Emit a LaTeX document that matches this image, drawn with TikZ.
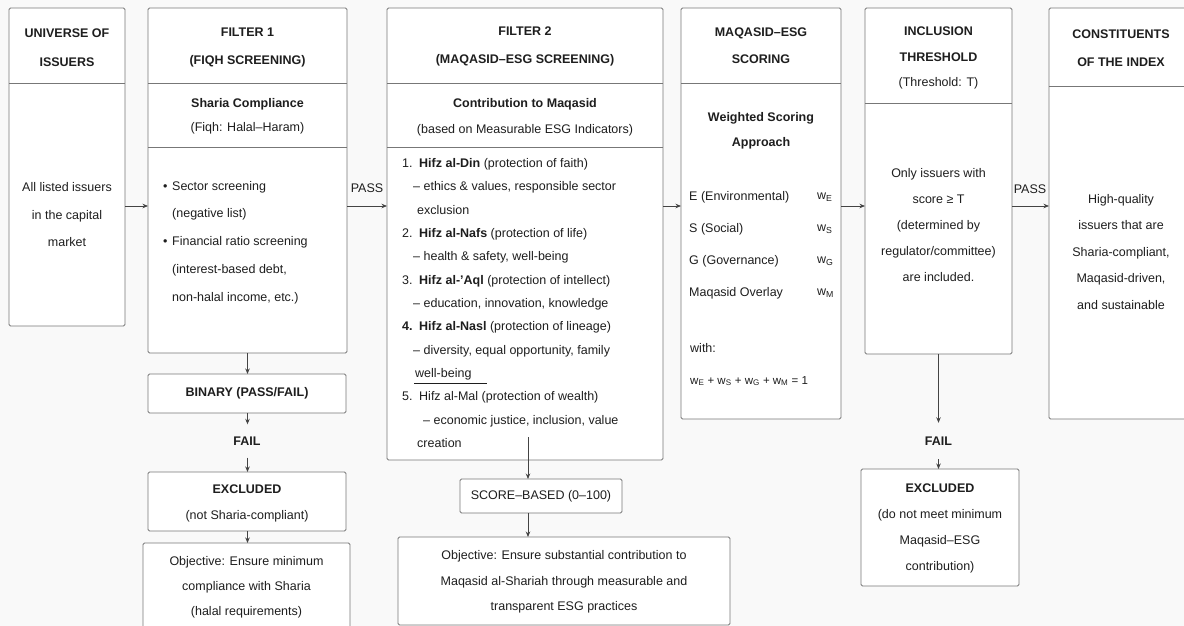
\documentclass[tikz,border=0pt]{standalone}
\usepackage{fontspec}
\setmainfont{Liberation Sans}
\usetikzlibrary{arrows.meta}
\definecolor{bg}{HTML}{F9F9F9}
\definecolor{edge}{HTML}{777777}
\definecolor{ink}{HTML}{1E1E1E}
\definecolor{arrowc}{HTML}{444444}
\newcommand\myfs[2]{\fontsize{#1}{#2}\selectfont}
\begin{document}
\begin{tikzpicture}[x=1pt,y=-1pt,
  box/.style={draw=edge, line width=0.9pt, rounded corners=1.5pt, fill=white, inner sep=0pt, outer sep=0pt, anchor=north west},
  divline/.style={draw=edge, line width=0.9pt},
  hd/.style={font=\bfseries\myfs{12.5}{28.5}, align=center, inner sep=0pt, text=ink},
  bd/.style={font=\myfs{12.5}{26}, align=center, inner sep=0pt, text=ink},
  arr/.style={draw=arrowc, line width=0.8pt, -{Stealth[length=5.5pt,width=4.5pt]}}]
\useasboundingbox (0,0) rectangle (1184,626);
\clip (0,0) rectangle (1184,626);
\fill[bg] (0,0) rectangle (1184,626);

% ---------- boxes ----------
\node[box, minimum width=116pt, minimum height=318pt] (universe) at (9,8) {};
\node[box, minimum width=199pt, minimum height=345pt] (f1) at (148,8) {};
\node[box, minimum width=198pt, minimum height=39pt] (binary) at (148,374) {};
\node[box, minimum width=198pt, minimum height=59pt] (exc1) at (148,472) {};
\node[box, minimum width=207pt, minimum height=86pt] (obj1) at (143,543) {};
\node[box, minimum width=276pt, minimum height=452pt] (f2) at (387,8) {};
\node[box, minimum width=162pt, minimum height=34pt] (score) at (460,479) {};
\node[box, minimum width=332pt, minimum height=88pt] (obj2) at (398,537) {};
\node[box, minimum width=160pt, minimum height=411pt] (mesg) at (681,8) {};
\node[box, minimum width=147pt, minimum height=346pt] (incl) at (865,8) {};
\node[box, minimum width=158pt, minimum height=117pt] (exc2) at (861,469) {};
\node[box, minimum width=150pt, minimum height=411pt] (cons) at (1049,8) {};

% dividers
\draw[divline] (universe.west |- 0,83) -- (universe.east |- 0,83);
\draw[divline] (f1.west |- 0,83) -- (f1.east |- 0,83);
\draw[divline] (f1.west |- 0,147) -- (f1.east |- 0,147);
\draw[divline] (f2.west |- 0,83) -- (f2.east |- 0,83);
\draw[divline] (f2.west |- 0,147) -- (f2.east |- 0,147);
\draw[divline] (mesg.west |- 0,83) -- (mesg.east |- 0,83);
\draw[divline] (incl.west |- 0,103) -- (incl.east |- 0,103);
\draw[divline] (cons.west |- 0,86) -- (cons.east |- 0,86);

% ---------- texts ----------
\node[hd] (uh) at (67,47.5) {UNIVERSE OF\\ISSUERS};
\node[bd, font=\myfs{12.5}{27.5}] (ub) at (67,215) {All listed issuers\\in the capital\\market};

\node[hd] (f1h) at (247.5,47.5) {FILTER 1\\(FIQH SCREENING)};
\node[bd, font=\myfs{12.5}{24}] (f1s) at (247.5,116) {\textbf{Sharia Compliance}\\(Fiqh: Halal–Haram)};
\node[bd, align=left, anchor=west, font=\myfs{12.5}{27.8}] (f1b) at (163,242.5)
  {\makebox[9pt][l]{•}Sector screening\\\hspace*{9pt}(negative list)\\\makebox[9pt][l]{•}Financial ratio screening\\\hspace*{9pt}(interest-based debt,\\\hspace*{9pt}non-halal income, etc.)};

\node[hd, font=\bfseries\myfs{12.5}{28}] (f2h) at (525,46) {FILTER 2\\(MAQASID–ESG SCREENING)};
\node[bd, font=\myfs{12.5}{26}] (f2s) at (525,117) {\textbf{Contribution to Maqasid}\\(based on Measurable ESG Indicators)};
\node[bd, align=left, anchor=west, font=\myfs{12.5}{23.33}] (f2b) at (402,303)
  {\makebox[17pt][l]{1.}\textbf{Hifz al-Din} (protection of faith)\\
   \hspace*{11pt}– ethics \& values, responsible sector\\
   \hspace*{15pt}exclusion\\
   \makebox[17pt][l]{2.}\textbf{Hifz al-Nafs} (protection of life)\\
   \hspace*{11pt}– health \& safety, well-being\\
   \makebox[17pt][l]{3.}\textbf{Hifz al-’Aql} (protection of intellect)\\
   \hspace*{11pt}– education, innovation, knowledge\\
   \makebox[17pt][l]{\textbf{4.}}\textbf{Hifz al-Nasl} (protection of lineage)\\
   \hspace*{11pt}– diversity, equal opportunity, family\\
   \hspace*{13pt}well-being\\
   \makebox[17pt][l]{5.}Hifz al-Mal (protection of wealth)\\
   \hspace*{21pt}– economic justice, inclusion, value\\
   \hspace*{15pt}creation};
\draw[ink, line width=0.7pt] (414,383) -- (487,383);

\node[hd, font=\bfseries\myfs{12.5}{27}] (mh) at (761,45.5) {MAQASID–ESG\\SCORING};
\node[hd, font=\bfseries\myfs{12.5}{25}] (ms) at (761,130.5) {Weighted Scoring\\Approach};
\node[bd, anchor=west] (me) at (689,197) {E (Environmental)};
\node[bd, anchor=west] (ms2) at (689,229) {S (Social)};
\node[bd, anchor=west] (mg) at (689,261) {G (Governance)};
\node[bd, anchor=west] (mm) at (689,293) {Maqasid Overlay};
\node[bd, anchor=west] (wE) at (817,197) {w\textsubscript{E}};
\node[bd, anchor=west] (wS) at (817,229) {w\textsubscript{S}};
\node[bd, anchor=west] (wG) at (817,261) {w\textsubscript{G}};
\node[bd, anchor=west] (wM) at (817,293) {w\textsubscript{M}};
\node[bd, anchor=west] (with) at (690,348) {with:};
\node[bd, anchor=west, font=\myfs{11.5}{20}] (sum) at (690,381)
  {w\textsubscript{E} + w\textsubscript{S} + w\textsubscript{G} + w\textsubscript{M} = 1};

\node[hd, font=\bfseries\myfs{12.5}{26}] (ih) at (938.5,44) {INCLUSION\\THRESHOLD};
\node[bd] (it) at (938.5,83) {(Threshold: T)};
\node[bd] (ib) at (938.5,225.5) {Only issuers with\\score ≥ T\\(determined by\\regulator/committee)\\are included.};

\node[hd, font=\bfseries\myfs{12.5}{28}] (ch) at (1121,48) {CONSTITUENTS\\OF THE INDEX};
\node[bd, font=\myfs{12.5}{26.5}] (cb) at (1121,252) {High-quality\\issuers that are\\Sharia-compliant,\\Maqasid-driven,\\and sustainable};

\node[hd] (binl) at (binary.center) {BINARY (PASS/FAIL)};
\node[bd] (exc1t) at (247,503) {\textbf{EXCLUDED}\\(not Sharia-compliant)};
\node[bd, font=\myfs{12.5}{25}] (obj1t) at (246.5,587) {Objective: Ensure minimum\\compliance with Sharia\\(halal requirements)};
\node[bd] (scoret) at (score.center) {SCORE–BASED (0–100)};
\node[bd, font=\myfs{12.5}{25.5}] (obj2t) at (564,582) {Objective: Ensure substantial contribution to\\Maqasid al-Shariah through measurable and\\transparent ESG practices};
\node[bd] (exc2t) at (940,528) {\textbf{EXCLUDED}\\(do not meet minimum\\Maqasid–ESG\\contribution)};

\node[hd, minimum height=33pt] (fail1) at (247,441) {FAIL};
\node[hd, minimum height=36pt] (fail2) at (938.5,441) {FAIL};
\node[bd] (pass1) at (367,188) {PASS};
\node[bd] (pass2) at (1030,189) {PASS};

% ---------- connectors ----------
\coordinate (ay) at (0,206);
\coordinate (c2) at (528,0);
\draw[arr] (universe.east |- ay) -- (f1.west |- ay);
\draw[arr] (f1.east |- ay) -- (f2.west |- ay);
\draw[arr] (f2.east |- ay) -- (mesg.west |- ay);
\draw[arr] (mesg.east |- ay) -- (incl.west |- ay);
\draw[arr] (incl.east |- ay) -- (cons.west |- ay);

\draw[arr] (f1.south) -- (f1.south |- binary.north);
\draw[arr] (binary.south -| f1.south) -- (fail1.north -| f1.south);
\draw[arr] (fail1.south -| f1.south) -- (exc1.north -| f1.south);
\draw[arr] (exc1.south -| f1.south) -- (obj1.north -| f1.south);

\draw[arr] ([yshift=23pt]f2.south -| c2) -- (score.north -| c2);
\draw[arr] (score.south -| c2) -- (obj2.north -| c2);

\draw[arr] (incl.south) -- (fail2.north);
\draw[arr] (fail2.south) -- (fail2.south |- exc2.north);
\end{tikzpicture}
\end{document}
